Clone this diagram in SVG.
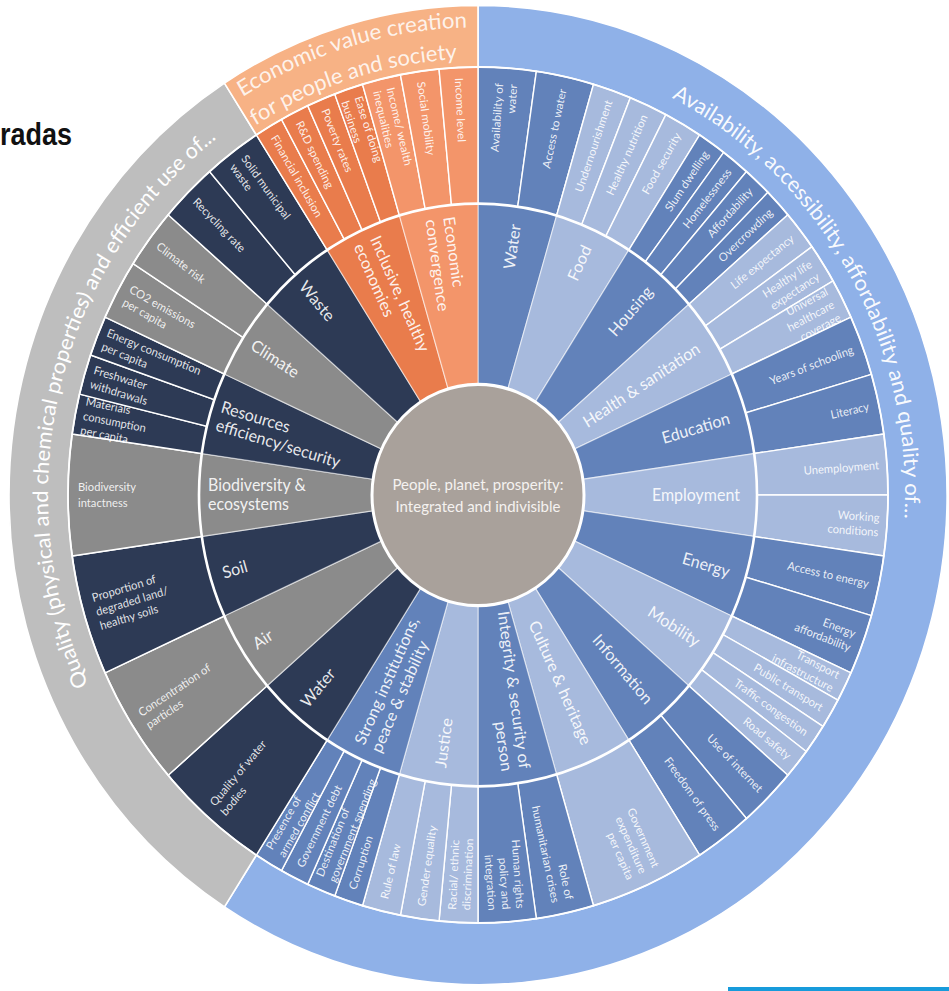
<svg xmlns="http://www.w3.org/2000/svg" width="949" height="991" viewBox="0 0 949 991">
<style>
.mb{fill:#6282ba}
.lb{fill:#a7badd}
.nv{fill:#2d3a55}
.gr{fill:#8b8b8b}
.o1{fill:#e97c4c}
.o2{fill:#f3956a}
.seg{stroke:#ffffff;stroke-width:1.4;stroke-linejoin:round}
.iseg{stroke:#ffffff;stroke-opacity:0.55;stroke-width:1.2}
.band{stroke:#ffffff;stroke-width:1.6}
.il{font-family:Lato,"Open Sans","Liberation Sans",sans-serif;font-size:16px;fill:#ffffff;fill-opacity:0.9}
.ol{font-family:Lato,"Open Sans","Liberation Sans",sans-serif;font-size:11.2px;fill:#ffffff;fill-opacity:0.88}
.bt{font-family:Lato,"Open Sans","Liberation Sans",sans-serif;font-size:21px;fill:#ffffff}
.r{text-anchor:end}
.l{text-anchor:start}
</style>
<defs>
<path id="w1" d="M0,0 L0,-410 A410,410 0 0 1 115.51,-393.39 Z"/>
<path id="w2" d="M0,0 L0,-410 A410,410 0 0 1 58.35,-405.83 Z"/>
<path id="w3" d="M0,0 L0,-410 A410,410 0 0 1 38.97,-408.14 Z"/>
<path id="w4" d="M0,0 L0,-410 A410,410 0 0 1 29.25,-408.96 Z"/>
<path id="wi" d="M0,0 L0,-279 A279,279 0 0 1 78.60,-267.70 Z"/>
<path id="pb" d="M193.85,-380.46 A427,427 0 0 1 420.51,74.15"/>
<path id="pg" d="M-389.71,181.73 A430,430 0 0 1 -240.45,-356.49"/>
<path id="po1" d="M-235.41,-381.16 A448,448 0 0 1 0,-448"/>
<path id="po2" d="M-222.74,-353.71 A418,418 0 0 1 0,-418"/>
</defs>
<rect width="949" height="991" fill="#ffffff"/>
<text id="title-fragment" x="0" y="145" font-family="'Liberation Sans',Arial,sans-serif" font-weight="bold" font-size="31" textLength="72" lengthAdjust="spacingAndGlyphs" fill="#111111">radas</text>
<rect id="blue-bar" x="728" y="987" width="221" height="4" fill="#179bdb"/>
<g transform="translate(478,495) scale(1,1.044)">
<g id="bands">
<g id="band-people"><path class="band" fill="#8fb1e8" d="M0,0 L0,-469 A469,469 0 1 1 -253.56,394.55 Z"/>
<text class="bt" fill-opacity="0.95"><textPath href="#pb" textLength="492" lengthAdjust="spacingAndGlyphs">Availability, accessibility, affordability and quality of...</textPath></text></g>
<g id="band-planet"><path class="band" fill="#bebebe" d="M0,0 L-253.56,394.55 A469,469 0 0 1 -253.56,-394.55 Z"/>
<text class="bt"><textPath href="#pg" textLength="582" lengthAdjust="spacingAndGlyphs">Quality (physical and chemical properties) and efficient use of...</textPath></text></g>
<g id="band-prosperity"><path class="band" fill="#f7b285" d="M0,0 L-253.56,-394.55 A469,469 0 0 1 0,-469 Z"/>
<text class="bt" font-size="20" fill-opacity="0.85"><textPath href="#po1" textLength="237" lengthAdjust="spacingAndGlyphs">Economic value creation</textPath></text>
<text class="bt" font-size="20" fill-opacity="0.85"><textPath href="#po2" textLength="214" lengthAdjust="spacingAndGlyphs">for people and society</textPath></text></g>
</g>
<g id="outer-ring">
<g id="o-availability-water"><use href="#w2" class="mb seg" transform="rotate(0)"/><text class="ol r" transform="rotate(-85.91)"><tspan x="395" y="-3">Availability of</tspan><tspan x="395" y="11">water</tspan></text></g>
<g id="o-access-water"><use href="#w2" class="mb seg" transform="rotate(8.182)"/><text class="ol r" transform="rotate(-77.73)" x="398" y="4">Access to water</text></g>
<g id="o-undernourishment"><use href="#w3" class="lb seg" transform="rotate(16.364)"/><text class="ol r" transform="rotate(-70.91)" x="400" y="4">Undernourishment</text></g>
<g id="o-healthy-nutrition"><use href="#w3" class="lb seg" transform="rotate(21.818)"/><text class="ol r" transform="rotate(-65.45)" x="400" y="4">Healthy nutrition</text></g>
<g id="o-food-security"><use href="#w3" class="lb seg" transform="rotate(27.273)"/><text class="ol r" transform="rotate(-60)" x="400" y="4">Food security</text></g>
<g id="o-slum-dwelling"><use href="#w4" class="mb seg" transform="rotate(32.727)"/><text class="ol r" transform="rotate(-55.23)" x="400" y="4">Slum dwelling</text></g>
<g id="o-homelessness"><use href="#w4" class="mb seg" transform="rotate(36.818)"/><text class="ol r" transform="rotate(-51.14)" x="400" y="4">Homelessness</text></g>
<g id="o-affordability"><use href="#w4" class="mb seg" transform="rotate(40.909)"/><text class="ol r" transform="rotate(-47.05)" x="400" y="4">Affordability</text></g>
<g id="o-overcrowding"><use href="#w4" class="mb seg" transform="rotate(45)"/><text class="ol r" transform="rotate(-42.95)" x="400" y="4">Overcrowding</text></g>
<g id="o-life-expectancy"><use href="#w3" class="lb seg" transform="rotate(49.091)"/><text class="ol r" transform="rotate(-38.18)" x="400" y="4">Life expectancy</text></g>
<g id="o-healthy-life"><use href="#w3" class="lb seg" transform="rotate(54.545)"/><text class="ol r" transform="rotate(-32.73)"><tspan x="400" y="-3">Healthy life</tspan><tspan x="400" y="11">expectancy</tspan></text></g>
<g id="o-universal-healthcare"><use href="#w3" class="lb seg" transform="rotate(60)"/><text class="ol r" transform="rotate(-27.27)"><tspan x="400" y="-10">Universal</tspan><tspan x="400" y="4">healthcare</tspan><tspan x="400" y="18">coverage</tspan></text></g>
<g id="o-years-schooling"><use href="#w2" class="mb seg" transform="rotate(65.455)"/><text class="ol r" transform="rotate(-20.45)" x="400" y="4">Years of schooling</text></g>
<g id="o-literacy"><use href="#w2" class="mb seg" transform="rotate(73.636)"/><text class="ol r" transform="rotate(-12.27)" x="400" y="4">Literacy</text></g>
<g id="o-unemployment"><use href="#w2" class="lb seg" transform="rotate(81.818)"/><text class="ol r" transform="rotate(-4.09)" x="402" y="4">Unemployment</text></g>
<g id="o-working-conditions"><use href="#w2" class="lb seg" transform="rotate(90)"/><text class="ol r" transform="rotate(4.09)"><tspan x="402" y="-3">Working</tspan><tspan x="402" y="11">conditions</tspan></text></g>
<g id="o-access-energy"><use href="#w2" class="mb seg" transform="rotate(98.182)"/><text class="ol r" transform="rotate(12.27)" x="400" y="4">Access to energy</text></g>
<g id="o-energy-affordability"><use href="#w2" class="mb seg" transform="rotate(106.364)"/><text class="ol r" transform="rotate(20.45)"><tspan x="400" y="-3">Energy</tspan><tspan x="400" y="11">affordability</tspan></text></g>
<g id="o-transport-infrastructure"><use href="#w4" class="lb seg" transform="rotate(114.545)"/><text class="ol r" transform="rotate(26.59)"><tspan x="400" y="-3">Transport</tspan><tspan x="400" y="11">infrastructure</tspan></text></g>
<g id="o-public-transport"><use href="#w4" class="lb seg" transform="rotate(118.636)"/><text class="ol r" transform="rotate(30.68)" x="400" y="4">Public transport</text></g>
<g id="o-traffic-congestion"><use href="#w4" class="lb seg" transform="rotate(122.727)"/><text class="ol r" transform="rotate(34.77)" x="400" y="4">Traffic congestion</text></g>
<g id="o-road-safety"><use href="#w4" class="lb seg" transform="rotate(126.818)"/><text class="ol r" transform="rotate(38.86)" x="400" y="4">Road safety</text></g>
<g id="o-use-internet"><use href="#w2" class="mb seg" transform="rotate(130.909)"/><text class="ol r" transform="rotate(45)" x="400" y="4">Use of internet</text></g>
<g id="o-freedom-press"><use href="#w2" class="mb seg" transform="rotate(139.091)"/><text class="ol r" transform="rotate(53.18)" x="400" y="4">Freedom of press</text></g>
<g id="o-government-expenditure"><use href="#w1" class="lb seg" transform="rotate(147.273)"/><text class="ol r" transform="rotate(65.45)"><tspan x="398" y="-10">Government</tspan><tspan x="398" y="4">expenditure</tspan><tspan x="398" y="18">per capita</tspan></text></g>
<g id="o-humanitarian-crises"><use href="#w2" class="mb seg" transform="rotate(163.636)"/><text class="ol r" transform="rotate(77.73)"><tspan x="398" y="-3">Role of</tspan><tspan x="398" y="11">humanitarian crises</tspan></text></g>
<g id="o-human-rights"><use href="#w2" class="mb seg" transform="rotate(171.818)"/><text class="ol r" transform="rotate(85.91)"><tspan x="398" y="-10">Human rights</tspan><tspan x="398" y="4">policy and</tspan><tspan x="398" y="18">integration</tspan></text></g>
<g id="o-racial-discrimination"><use href="#w3" class="lb seg" transform="rotate(180)"/><text class="ol l" transform="rotate(-87.27)"><tspan x="-398" y="-3">Racial/ ethnic</tspan><tspan x="-398" y="11">discrimination</tspan></text></g>
<g id="o-gender-equality"><use href="#w3" class="lb seg" transform="rotate(185.455)"/><text class="ol l" transform="rotate(-81.82)" x="-398" y="4">Gender equality</text></g>
<g id="o-rule-of-law"><use href="#w3" class="lb seg" transform="rotate(190.909)"/><text class="ol l" transform="rotate(-76.36)" x="-398" y="4">Rule of law</text></g>
<g id="o-corruption"><use href="#w4" class="mb seg" transform="rotate(196.364)"/><text class="ol l" transform="rotate(-71.59)" x="-398" y="4">Corruption</text></g>
<g id="o-destination-spending"><use href="#w4" class="mb seg" transform="rotate(200.455)"/><text class="ol l" transform="rotate(-67.5)"><tspan x="-398" y="-3">Destination of</tspan><tspan x="-398" y="11">government spending</tspan></text></g>
<g id="o-government-debt"><use href="#w4" class="mb seg" transform="rotate(204.545)"/><text class="ol l" transform="rotate(-63.41)" x="-398" y="4">Government debt</text></g>
<g id="o-armed-conflict"><use href="#w4" class="mb seg" transform="rotate(208.636)"/><text class="ol l" transform="rotate(-59.32)"><tspan x="-398" y="-3">Presence of</tspan><tspan x="-398" y="11">armed conflict</tspan></text></g>
<g id="o-quality-water-bodies"><use href="#w1" class="nv seg" transform="rotate(212.727)"/><text class="ol l" transform="rotate(-49.09)"><tspan x="-398" y="-3">Quality of water</tspan><tspan x="-398" y="11">bodies</tspan></text></g>
<g id="o-particles"><use href="#w1" class="gr seg" transform="rotate(229.091)"/><text class="ol l" transform="rotate(-32.73)"><tspan x="-398" y="-3">Concentration of</tspan><tspan x="-398" y="11">particles</tspan></text></g>
<g id="o-degraded-land"><use href="#w1" class="nv seg" transform="rotate(245.455)"/><text class="ol l" transform="rotate(-16.36)"><tspan x="-398" y="-10">Proportion of</tspan><tspan x="-398" y="4">degraded land/</tspan><tspan x="-398" y="18">healthy soils</tspan></text></g>
<g id="o-biodiversity-intactness"><use href="#w1" class="gr seg" transform="rotate(261.818)"/><text class="ol l" transform="rotate(0)"><tspan x="-400" y="-3.5">Biodiversity</tspan><tspan x="-400" y="11.5">intactness</tspan></text></g>
<g id="o-materials"><use href="#w3" class="nv seg" transform="rotate(278.182)"/><text class="ol l" transform="rotate(10.91)"><tspan x="-402" y="-10">Materials</tspan><tspan x="-402" y="4">consumption</tspan><tspan x="-402" y="18">per capita</tspan></text></g>
<g id="o-freshwater"><use href="#w3" class="nv seg" transform="rotate(283.636)"/><text class="ol l" transform="rotate(16.36)"><tspan x="-402" y="-3">Freshwater</tspan><tspan x="-402" y="11">withdrawals</tspan></text></g>
<g id="o-energy-consumption"><use href="#w3" class="nv seg" transform="rotate(289.091)"/><text class="ol l" transform="rotate(21.82)"><tspan x="-402" y="-3">Energy consumption</tspan><tspan x="-402" y="11">per capita</tspan></text></g>
<g id="o-co2"><use href="#w2" class="gr seg" transform="rotate(294.545)"/><text class="ol l" transform="rotate(28.64)"><tspan x="-400" y="-3">CO2 emissions</tspan><tspan x="-400" y="11">per capita</tspan></text></g>
<g id="o-climate-risk"><use href="#w2" class="gr seg" transform="rotate(302.727)"/><text class="ol l" transform="rotate(36.82)" x="-400" y="4">Climate risk</text></g>
<g id="o-recycling"><use href="#w2" class="nv seg" transform="rotate(310.909)"/><text class="ol l" transform="rotate(45)" x="-400" y="4">Recycling rate</text></g>
<g id="o-solid-waste"><use href="#w2" class="nv seg" transform="rotate(319.091)"/><text class="ol l" transform="rotate(53.18)"><tspan x="-400" y="-3">Solid municipal</tspan><tspan x="-400" y="11">waste</tspan></text></g>
<g id="o-financial-inclusion"><use href="#w4" class="o1 seg" transform="rotate(327.273)"/><text class="ol l" transform="rotate(59.32)" x="-400" y="4">Financial inclusion</text></g>
<g id="o-rd-spending"><use href="#w4" class="o1 seg" transform="rotate(331.364)"/><text class="ol l" transform="rotate(63.41)" x="-400" y="4">R&amp;D spending</text></g>
<g id="o-poverty-rates"><use href="#w4" class="o1 seg" transform="rotate(335.455)"/><text class="ol l" transform="rotate(67.5)" x="-400" y="4">Poverty rates</text></g>
<g id="o-ease-business"><use href="#w4" class="o1 seg" transform="rotate(339.545)"/><text class="ol l" transform="rotate(71.59)"><tspan x="-400" y="-3">Ease of doing</tspan><tspan x="-400" y="11">business</tspan></text></g>
<g id="o-inequalities"><use href="#w3" class="o2 seg" transform="rotate(343.636)"/><text class="ol l" transform="rotate(76.36)"><tspan x="-400" y="-3">Income/ wealth</tspan><tspan x="-400" y="11">inequalities</tspan></text></g>
<g id="o-social-mobility"><use href="#w3" class="o2 seg" transform="rotate(349.091)"/><text class="ol l" transform="rotate(81.82)" x="-400" y="4">Social mobility</text></g>
<g id="o-income-level"><use href="#w3" class="o2 seg" transform="rotate(354.545)"/><text class="ol l" transform="rotate(87.27)" x="-400" y="4">Income level</text></g>
</g>
<g id="inner-ring">
<g id="i-water"><use href="#wi" class="mb iseg" transform="rotate(0)"/><text class="il r" transform="rotate(-81.82)" x="262" y="5.5">Water</text></g>
<g id="i-food"><use href="#wi" class="lb iseg" transform="rotate(16.364)"/><text class="il r" transform="rotate(-65.45)" x="262" y="5.5">Food</text></g>
<g id="i-housing"><use href="#wi" class="mb iseg" transform="rotate(32.727)"/><text class="il r" transform="rotate(-49.09)" x="262" y="5.5">Housing</text></g>
<g id="i-health"><use href="#wi" class="lb iseg" transform="rotate(49.091)"/><text class="il r" transform="rotate(-32.73)" x="262" y="5.5">Health &amp; sanitation</text></g>
<g id="i-education"><use href="#wi" class="mb iseg" transform="rotate(65.455)"/><text class="il r" transform="rotate(-16.36)" x="262" y="5.5">Education</text></g>
<g id="i-employment"><use href="#wi" class="lb iseg" transform="rotate(81.818)"/><text class="il r" transform="rotate(0)" x="262" y="5.5">Employment</text></g>
<g id="i-energy"><use href="#wi" class="mb iseg" transform="rotate(98.182)"/><text class="il r" transform="rotate(16.36)" x="262" y="5.5">Energy</text></g>
<g id="i-mobility"><use href="#wi" class="lb iseg" transform="rotate(114.545)"/><text class="il r" transform="rotate(32.73)" x="262" y="5.5">Mobility</text></g>
<g id="i-information"><use href="#wi" class="mb iseg" transform="rotate(130.909)"/><text class="il r" transform="rotate(49.09)" x="262" y="5.5">Information</text></g>
<g id="i-culture"><use href="#wi" class="lb iseg" transform="rotate(147.273)"/><text class="il r" transform="rotate(65.45)" x="262" y="5.5">Culture &amp; heritage</text></g>
<g id="i-integrity"><use href="#wi" class="mb iseg" transform="rotate(163.636)"/><text class="il r" transform="rotate(81.82)"><tspan x="266" y="-3.5">Integrity &amp; security of</tspan><tspan x="266" y="14.5">person</tspan></text></g>
<g id="i-justice"><use href="#wi" class="lb iseg" transform="rotate(180)"/><text class="il l" transform="rotate(-81.82)" x="-264" y="5.5">Justice</text></g>
<g id="i-strong-institutions"><use href="#wi" class="mb iseg" transform="rotate(196.364)"/><text class="il l" transform="rotate(-65.45)"><tspan x="-266" y="-3.5">Strong institutions,</tspan><tspan x="-266" y="14.5">peace &amp; stability</tspan></text></g>
<g id="i-water-planet"><use href="#wi" class="nv iseg" transform="rotate(212.727)"/><text class="il l" transform="rotate(-49.09)" x="-266" y="5.5">Water</text></g>
<g id="i-air"><use href="#wi" class="gr iseg" transform="rotate(229.091)"/><text class="il l" transform="rotate(-32.73)" x="-266" y="5.5">Air</text></g>
<g id="i-soil"><use href="#wi" class="nv iseg" transform="rotate(245.455)"/><text class="il l" transform="rotate(-16.36)" x="-266" y="5.5">Soil</text></g>
<g id="i-biodiversity"><use href="#wi" class="gr iseg" transform="rotate(261.818)"/><text class="il l" transform="rotate(0)"><tspan x="-270" y="-3.5">Biodiversity &amp;</tspan><tspan x="-270" y="14.5">ecosystems</tspan></text></g>
<g id="i-resources"><use href="#wi" class="nv iseg" transform="rotate(278.182)"/><text class="il l" transform="rotate(16.36)"><tspan x="-270" y="-3.5">Resources</tspan><tspan x="-270" y="14.5">efficiency/security</tspan></text></g>
<g id="i-climate"><use href="#wi" class="gr iseg" transform="rotate(294.545)"/><text class="il l" transform="rotate(32.73)" x="-268" y="5.5">Climate</text></g>
<g id="i-waste"><use href="#wi" class="nv iseg" transform="rotate(310.909)"/><text class="il l" transform="rotate(49.09)" x="-268" y="5.5">Waste</text></g>
<g id="i-inclusive"><use href="#wi" class="o1 iseg" transform="rotate(327.273)"/><text class="il l" transform="rotate(65.45)"><tspan x="-268" y="-3.5">Inclusive, healthy</tspan><tspan x="-268" y="14.5">economies</tspan></text></g>
<g id="i-convergence"><use href="#wi" class="o2 iseg" transform="rotate(343.636)"/><text class="il l" transform="rotate(81.82)"><tspan x="-268" y="-3.5">Economic</tspan><tspan x="-268" y="14.5">convergence</tspan></text></g>
</g>
<g id="connectors">
<circle r="410" fill="none" stroke="#ffffff" stroke-width="1.8"/>
<circle r="279" fill="none" stroke="#ffffff" stroke-width="2.6"/>
</g>
<g id="center"><circle r="106" fill="#a9a19b" stroke="#ffffff" stroke-width="3"/></g>
</g>
<g id="center-text" font-family="Lato,'Open Sans','Liberation Sans',sans-serif" font-size="15" fill="#f5f2f0" text-anchor="middle">
<text x="478" y="490">People, planet, prosperity:</text>
<text x="478" y="512">Integrated and indivisible</text>
</g>
</svg>
